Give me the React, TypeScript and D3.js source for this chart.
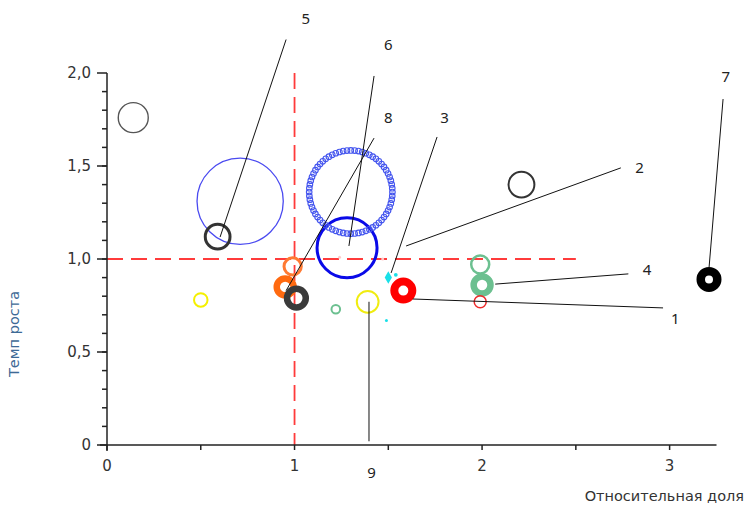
import React from "react";
import { scaleLinear, range, symbol, symbolDiamond } from "d3";

// bubbles: relative share (x), growth rate (y), radius in share units
const shareX = [0.14, 0.71, 0.59, 1.28, 0.99, 0.95, 1.01, 0.5, 1.22, 1.39, 1.58, 1.99, 2.0, 1.99, 2.21, 3.21, 1.54, 1.49, 1.24, 1.47];
const growthY = [1.76, 1.31, 1.12, 1.06, 0.96, 0.85, 0.79, 0.78, 0.73, 0.77, 0.83, 0.97, 0.86, 0.77, 1.4, 0.89, 0.915, 0.67, 1.01, 1.0];
const bubbleR = [0.08, 0.23, 0.066, 0.16, 0.046, 0.045, 0.05, 0.036, 0.023, 0.058, 0.048, 0.048, 0.045, 0.032, 0.069, 0.044, 0.01, 0.008, 0.008, 0.008];
const bubbleColor = ["#555", "#4a4af0", "#333", "#0a0ae8", "#ff7a33", "#ff6a10", "#3a3a3a", "#f5f000", "#6cc090", "#f0ec10", "#ff0000", "#6cc090", "#6cc090", "#ee2a2a", "#333", "#000", "#19e0e8", "#19e0e8", "#ffc8c8", "#ffc8c8"];
const bubbleStroke = [1.4, 1.3, 3, 3, 3, 6.5, 6.5, 2, 2, 2, 8, 2.5, 6.5, 1.5, 2, 8.5, 0, 0, 0, 0];

// ring made of small markers
const ringX = 1.3;
const ringY = 1.36;
const ringR = 0.222;
// cyan diamond marker
const diamondX = 1.5;
const diamondY = 0.9;

// leader labels
const labelText = ["5", "6", "8", "3", "2", "4", "1", "7", "9"];
const labelX = [1.06, 1.5, 1.5, 1.8, 2.84, 2.88, 3.03, 3.3, 1.41];
const labelY = [2.29, 2.15, 1.76, 1.76, 1.49, 0.94, 0.68, 1.98, -0.15];
const lineFromX = [0.955, 1.424, 1.424, 1.76, 2.74, 2.78, 2.965, 3.285, 1.397];
const lineFromY = [2.18, 1.984, 1.65, 1.656, 1.49, 0.92, 0.737, 1.86, 0.02];
const lineToX = [0.603, 1.29, 0.955, 1.515, 1.595, 2.07, 1.63, 3.21, 1.397];
const lineToY = [1.118, 1.07, 0.83, 0.925, 1.07, 0.865, 0.785, 0.95, 0.77];

const xTicks = [0, 1, 2, 3];
const xMinor = [0.5, 1.5, 2.5];
const yTicks = [0, 0.5, 1, 1.5, 2];
const yTickLabels = ["0", "0,5", "1,0", "1,5", "2,0"];
const yMinor = range(1, 20).map(i => i / 10);

export default function App() {
  const width = 747,
    height = 506;

  const x = scaleLinear().domain([0, 3.25]).range([107, 716.5]);
  const y = scaleLinear().domain([0, 2]).range([445, 73]);
  const r = scaleLinear().domain([0, 1]).range([0, 187.5]);

  const cyanDiamond = symbol().type(symbolDiamond).size(45)();
  const ringAngles = range(68).map(i => (i / 68) * Math.PI * 2);

  return (
    <svg
      width={width}
      height={height}
      style={{ position: "absolute", left: 0, top: 0, background: "#fff" }}
      fontFamily="DejaVu Sans"
    >
      {/* quadrant lines */}
      <line
        x1={x(0)}
        x2={x(2.5)}
        y1={y(1)}
        y2={y(1)}
        stroke="#ff3b3b"
        strokeWidth={1.8}
        strokeDasharray="16 8"
      />
      <line
        x1={x(1)}
        x2={x(1)}
        y1={y(2)}
        y2={y(0)}
        stroke="#ff3b3b"
        strokeWidth={1.8}
        strokeDasharray="16 8"
      />

      {/* axes */}
      <g stroke="#222" strokeWidth={1.5}>
        <line x1={x(0) - 7} x2={x(3.25)} y1={y(0)} y2={y(0)} />
        <line x1={x(0)} x2={x(0)} y1={y(2)} y2={y(0) + 6} />
        {xTicks.concat(xMinor).map(t => (
          <line key={"xt" + t} x1={x(t)} x2={x(t)} y1={y(0)} y2={y(0) + 5} />
        ))}
        {yTicks.map(t => (
          <line key={"yt" + t} x1={x(0) - 10} x2={x(0)} y1={y(t)} y2={y(t)} />
        ))}
        {yMinor.map(t => (
          <line key={"ym" + t} x1={x(0) - 5} x2={x(0)} y1={y(t)} y2={y(t)} />
        ))}
      </g>
      <g fontSize={15} fill="#333">
        {xTicks.map(t => (
          <text key={"xl" + t} x={x(t)} y={y(0) + 26} textAnchor="middle">
            {t}
          </text>
        ))}
        {yTicks.map((t, i) => (
          <text key={"yl" + t} x={x(0) - 16} y={y(t) + 5} textAnchor="end">
            {yTickLabels[i]}
          </text>
        ))}
      </g>
      <text x={744} y={501} textAnchor="end" fontSize={14.5} fill="#333">
        Относительная доля
      </text>
      <text
        transform={`translate(19, ${334}) rotate(-90)`}
        textAnchor="middle"
        fontSize={14.5}
        fill="#3d6a96"
      >
        Темп роста
      </text>

      {/* bubbles */}
      {shareX.map((d, i) =>
        bubbleStroke[i] > 0 ? (
          <circle
            key={"b" + i}
            cx={x(d)}
            cy={y(growthY[i])}
            r={r(bubbleR[i])}
            fill="none"
            stroke={bubbleColor[i]}
            strokeWidth={bubbleStroke[i]}
          />
        ) : (
          <circle
            key={"b" + i}
            cx={x(d)}
            cy={y(growthY[i])}
            r={Math.max(1.5, r(bubbleR[i]))}
            fill={bubbleColor[i]}
          />
        )
      )}
      {ringAngles.map((a, i) => (
        <circle
          key={"rd" + i}
          cx={x(ringX) + r(ringR) * Math.cos(a)}
          cy={y(ringY) + r(ringR) * Math.sin(a)}
          r={2.8}
          fill="none"
          stroke="#4455ee"
          strokeWidth={1.1}
        />
      ))}
      <path
        d={cyanDiamond}
        transform={`translate(${x(diamondX)}, ${y(diamondY)})`}
        fill="#19e0e8"
      />

      {/* leader lines and labels */}
      <g stroke="#111" strokeWidth={1}>
        {labelText.map((t, i) => (
          <line
            key={"ll" + t}
            x1={x(lineFromX[i])}
            y1={y(lineFromY[i])}
            x2={x(lineToX[i])}
            y2={y(lineToY[i])}
          />
        ))}
      </g>
      <g fontSize={15} fill="#222" fontFamily="Noto Sans">
        {labelText.map((t, i) => (
          <text key={"lt" + t} x={x(labelX[i])} y={y(labelY[i]) + 5} textAnchor="middle">
            {t}
          </text>
        ))}
      </g>
    </svg>
  );
}
